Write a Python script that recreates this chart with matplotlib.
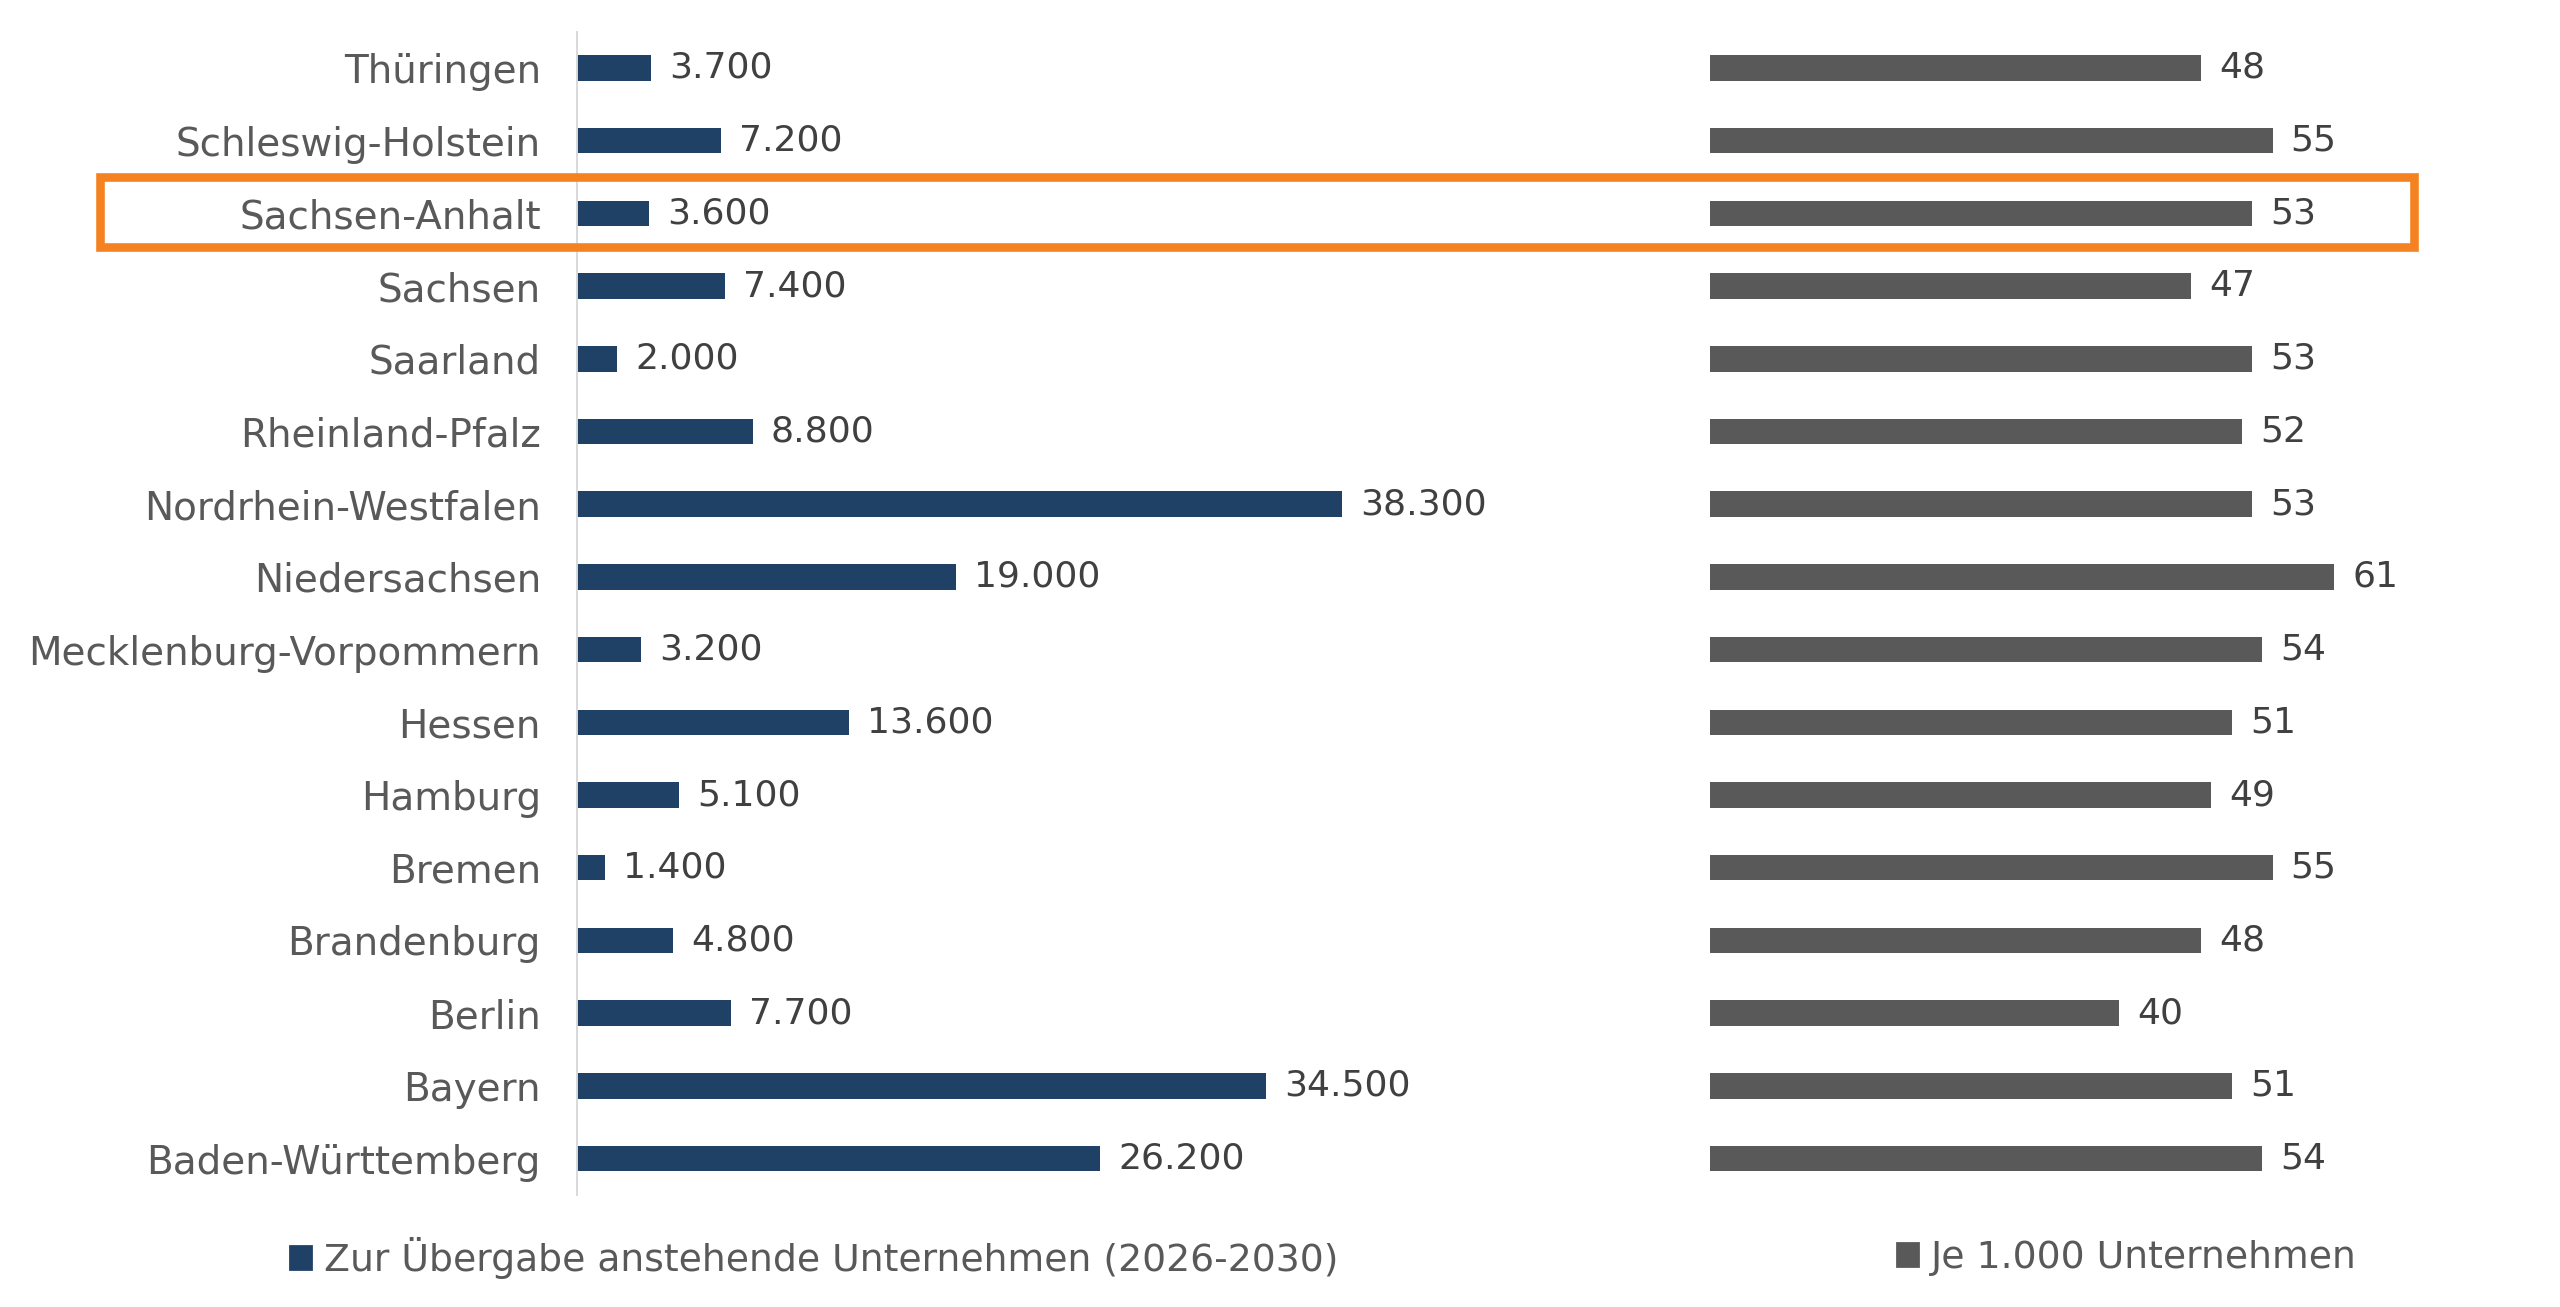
import numpy as np
from matplotlib import pyplot as plt
from matplotlib.patches import Rectangle
from matplotlib.transforms import blended_transform_factory

laender = ['Thüringen', 'Schleswig-Holstein', 'Sachsen-Anhalt', 'Sachsen',
           'Saarland', 'Rheinland-Pfalz', 'Nordrhein-Westfalen', 'Niedersachsen',
           'Mecklenburg-Vorpommern', 'Hessen', 'Hamburg', 'Bremen',
           'Brandenburg', 'Berlin', 'Bayern', 'Baden-Württemberg']
uebergaben = [3700, 7200, 3600, 7400, 2000, 8800, 38300, 19000,
              3200, 13600, 5100, 1400, 4800, 7700, 34500, 26200]
je_1000 = [48, 55, 53, 47, 53, 52, 53, 61, 54, 51, 49, 55, 48, 40, 51, 54]
label_links = 'Zur Übergabe anstehende Unternehmen (2026-2030)'
label_rechts = 'Je 1.000 Unternehmen'
markiert = 'Sachsen-Anhalt'

BLAU = '#1F4166'
GRAU = '#595959'
ORANGE = '#F58220'
TEXT = '#595959'

plt.rcParams['font.family'] = ['DejaVu Sans']

W, H = 2560, 1307
fig = plt.figure(figsize=(W / 200, H / 200), dpi=200)

# row centres measured in pixels from top: 68 + i * 72.7
pitch = 72.7
y_top = 68 - pitch / 2
y_bot = 68 + 15.5 * pitch
bottom = (H - y_bot) / H
height = (y_bot - y_top) / H

ax1 = fig.add_axes([577 / W, bottom, 998.5 / W, height])
ax2 = fig.add_axes([1710 / W, bottom, 716.1 / W, height])

y = np.arange(len(laender))

bars1 = ax1.barh(y, uebergaben, height=0.35, color=BLAU)
bars2 = ax2.barh(y, je_1000, height=0.35, color=GRAU)


def fmt_de(v):
    return f'{v:,.0f}'.replace(',', '.')


ax1.bar_label(bars1, labels=[fmt_de(v) for v in uebergaben], padding=6.5,
              fontsize=13, color='#404040')
ax2.bar_label(bars2, labels=[str(v) for v in je_1000], padding=6.5,
              fontsize=13, color='#404040')

ax1.set_xlim(0, 50000)
ax2.set_xlim(0, 70)
for ax in (ax1, ax2):
    ax.set_ylim(len(laender) - 0.5, -0.5)
    ax.set_xticks([])
    ax.patch.set_visible(False)
    for side in ['top', 'right', 'bottom', 'left']:
        ax.spines[side].set_visible(False)

ax1.spines['left'].set_visible(True)
ax1.spines['left'].set_color('#D9D9D9')
ax1.spines['left'].set_linewidth(0.7)
ax1.set_yticks(y)
ax1.set_yticklabels(laender, fontsize=14, color=TEXT)
ax1.tick_params(axis='y', length=0, pad=13)
ax2.set_yticks([])

# orange frame around the highlighted row
i = laender.index(markiert)
trans = blended_transform_factory(fig.transFigure, ax1.transData)
fig.add_artist(Rectangle((100 / W, i - 0.505), 2314 / W, 0.97,
                         transform=trans, fill=False, edgecolor=ORANGE,
                         linewidth=3.1, clip_on=False, zorder=5))

# legends
leg_y = 1 - 1258 / H
leg_fmt = dict(loc='center left', frameon=False, fontsize=13.6,
               handlelength=0.55, handleheight=0.55, handletextpad=0.35,
               borderpad=0, borderaxespad=0, labelcolor=TEXT)
fig.legend([Rectangle((0, 0), 1, 1, color=BLAU)], [label_links],
           bbox_to_anchor=(290 / W, leg_y), **leg_fmt)
fig.legend([Rectangle((0, 0), 1, 1, color=GRAU)], [label_rechts],
           bbox_to_anchor=(1897 / W, leg_y), **leg_fmt)

plt.savefig('out.png', dpi=200, facecolor='white')
